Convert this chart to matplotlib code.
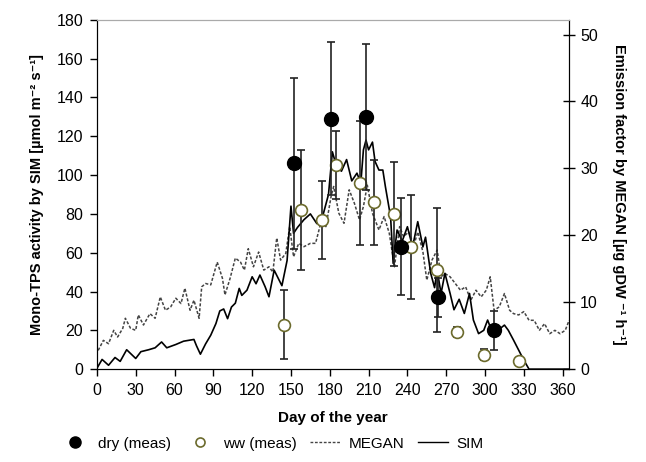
import matplotlib.pyplot as plt
from matplotlib.lines import Line2D

plt.rcParams['font.family'] = ['Liberation Sans', 'DejaVu Sans']

# measured points (left axis)
dry_day = [152, 181, 208, 235, 264, 307]
dry_val = [106, 129, 130, 63, 37, 20]
dry_err = [44, 39.5, 37.5, 25, 10, 10]

ww_day = [145, 158, 174, 185, 203, 214, 230, 243, 263, 278, 299, 326]
ww_val = [23, 82, 77, 105, 96, 86, 80, 63, 51, 19, 7.5, 4]
ww_err = [18, 31, 20, 17.5, 32, 22, 27, 27, 32, 2.5, 3, 0]

# SIM (left axis)
sim_day = [0, 4, 9, 14, 18, 23, 30, 34, 40, 45, 50, 54, 61, 67, 75, 77, 80, 84, 88,
           92, 95, 98, 101, 104, 107, 110, 112, 116, 120, 123, 126, 130, 133, 137,
           143, 147, 150, 152, 155, 160, 165, 170, 175, 179, 182, 185, 189, 193, 197,
           201, 204, 206, 208, 210, 213, 215, 218, 221, 223, 227, 229, 232, 236, 240,
           244, 248, 252, 254, 258, 261, 263, 266, 269, 273, 276, 280, 284, 288, 291,
           295, 299, 302, 306, 310, 315, 318, 322, 326, 330, 334, 365]
sim_val = [0.4, 5, 2, 6, 4, 10, 5.5, 9, 10, 11, 14, 11, 12.7, 14.4, 15.3, 12, 7.7, 13, 17.5,
           23.5, 30, 31, 26, 32, 34, 41.6, 38, 40.7, 47.6, 44, 48.5, 42.5, 37.3, 51,
           43, 56, 84, 70, 73, 77, 80, 75, 80, 90, 112, 105, 102, 108, 97,
           101, 96, 113, 118, 113, 117, 107, 102.6, 102.6, 94, 78.5, 54.5, 71.7, 66, 73.4,
           63, 76, 63, 68, 49.4, 42, 51, 39, 49.4, 39, 30.6, 36, 28.7, 39, 25.3,
           18.3, 20, 25.3, 18.3, 20, 22.7, 20, 15, 9.8, 4.6, 0, 0]

# MEGAN (right axis)
megan_day = [1, 5, 9, 13, 16, 20, 22, 26, 30, 32, 36, 41, 45, 49, 53, 57, 61, 65, 68,
             72, 75, 79, 81, 84, 88, 93, 97, 99, 103, 107, 111, 114, 117, 121, 125,
             129, 133, 136, 139, 142, 146, 149, 152, 156, 160, 165, 169, 173, 177, 181,
             183, 187, 191, 195, 199, 203, 206, 209, 213, 218, 222, 226, 230, 234, 237,
             241, 245, 248, 252, 255, 259, 263, 266, 269, 273, 277, 281, 285, 289, 293,
             297, 301, 304, 307, 311, 315, 319, 322, 326, 330, 334, 338, 342, 346, 350,
             354, 358, 362, 365]
megan_val = [2.8, 4.3, 3.8, 5.8, 4.8, 6.1, 7.6, 6.1, 5.8, 8.1, 6.6, 8.3, 7.6, 10.8, 8.8, 9.3, 10.6, 9.8, 12.1,
             8.8, 10.3, 7.6, 12.3, 12.8, 12.6, 16, 13.6, 11.1, 13.6, 16.6, 16, 14.8, 18, 15.3, 17.5,
             14.8, 15.3, 14.5, 19.6, 16.3, 17.3, 21.3, 16.8, 18.8, 18.3, 18.8, 18.8, 21.8, 21.3, 25.8,
             27.3, 23.3, 21.8, 26.8, 24.8, 22.3, 24.3, 27.5, 23.3, 20.8, 22.8, 20.3, 15.3, 21.3, 19.8,
             20.5, 18.5, 20.5, 17.5, 13.3, 16.3, 17.8, 13.8, 14.3, 13.8, 12.8, 11.8, 12.3, 10.3, 11.8,
             10.8, 11.8, 13.8, 8.8, 9.3, 11.3, 8.8, 8.3, 8.1, 8.6, 7.3, 7.3, 5.8, 6.8, 5.3,
             5.8, 5.3, 5.8, 7.3]

fig = plt.figure(figsize=(6.46, 4.62), dpi=100)
ax = fig.add_axes([0.150, 0.201, 0.731, 0.756])
ax2 = ax.twinx()
ax.set_zorder(ax2.get_zorder() + 1)
ax.patch.set_visible(False)

ax2.plot(megan_day, megan_val, color='#444444', lw=1.1, ls=(0, (2, 1.2)))
ax.plot(sim_day, sim_val, color='black', lw=1.2)

ax.errorbar(ww_day, ww_val, yerr=ww_err, fmt='o', ms=8.5, mfc='white', mec='#6b6a2c',
            mew=1.2, ecolor='#222222', elinewidth=1.2, capsize=3, capthick=1.2, zorder=3)
ax.errorbar(dry_day, dry_val, yerr=dry_err, fmt='o', ms=10, mfc='black', mec='black',
            ecolor='#222222', elinewidth=1.2, capsize=3, capthick=1.2, zorder=4)

ax.set_xlim(0, 365)
ax.set_ylim(0, 180)
ax2.set_ylim(0, 52.2)
ax.set_xticks(range(0, 361, 30))
ax.set_yticks(range(0, 181, 20))
ax2.set_yticks(range(0, 51, 10))

for a in (ax, ax2):
    a.spines['top'].set_color('#aaaaaa')
    a.spines['top'].set_linewidth(0.8)
ax.tick_params(axis='both', direction='out', length=5, width=1, labelsize=11.5, pad=5)
ax2.tick_params(axis='y', direction='inout', length=8, width=1, labelsize=11.5, pad=4)

ax.set_xlabel('Day of the year', fontsize=11, fontweight='bold', labelpad=9)
ax.set_ylabel('Mono-TPS activity by SIM [µmol m⁻² s⁻¹]', fontsize=10.5,
              fontweight='bold', labelpad=9)
ax2.set_ylabel('Emission factor by MEGAN [µg gDW ⁻¹ h⁻¹]', fontsize=10.5,
               fontweight='bold', rotation=-90, labelpad=20)

handles = [
    Line2D([], [], marker='o', ls='none', color='black', ms=8),
    Line2D([], [], marker='o', ls='none', mfc='white', mec='#6b6a2c', mew=1.2, ms=6.5),
    Line2D([], [], color='#444444', lw=1, ls=(0, (2, 1.2))),
    Line2D([], [], color='black', lw=1),
]
fig.legend(handles, ['dry (meas)', 'ww (meas)', 'MEGAN', 'SIM'], loc='center',
           bbox_to_anchor=(0.42, 0.04), ncol=4, frameon=False, fontsize=11,
           handlelength=2.0, columnspacing=0.9, handletextpad=0.5)

fig.savefig('out.png', dpi=100)
